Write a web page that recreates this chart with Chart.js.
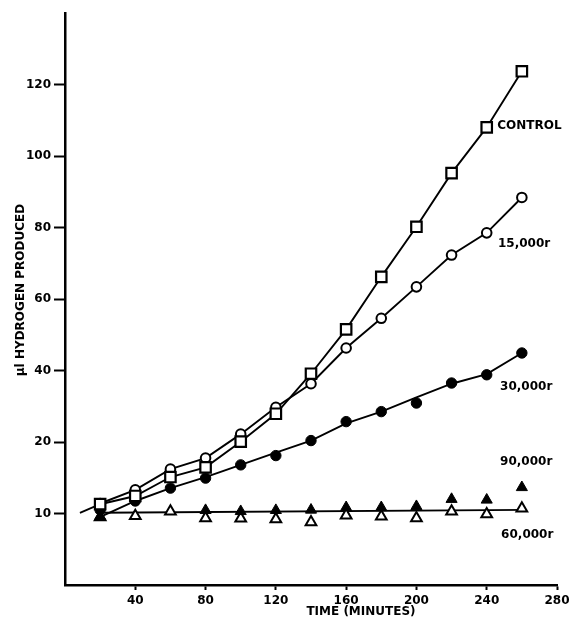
<!DOCTYPE html>
<html>
<head>
<meta charset="utf-8">
<script src="https://cdn.jsdelivr.net/npm/chart.js@4.4.0/dist/chart.umd.min.js"></script>
<style>
  html, body { margin: 0; padding: 0; background: #fff; }
  #wrap { width: 577px; height: 626px; }
</style>
</head>
<body>
<div id="wrap"><canvas id="chart" width="577" height="626"></canvas></div>
<script>
// time points (minutes)
const minutes = [20, 40, 60, 80, 100, 120, 140, 160, 180, 200, 220, 240, 260];

// values in the figure's own axis units (the lowest tick, printed "10", sits at 0)
const control = [2.6, 4.9, 10.2, 12.9, 20.1, 27.9, 39.1, 51.5, 66.2, 80.2, 95.2, 108.0, 123.7];
const r15000 = [2.8, 6.6, 12.4, 15.5, 22.2, 29.7, 36.3, 46.3, 54.6, 63.4, 72.3, 78.5, 88.4];
const r30000 = [1.0, 3.5, 7.1, 9.9, 13.6, 16.2, 20.4, 25.7, 28.5, 30.9, 36.5, 38.8, 44.9];
const r90000 = [-0.8, null, null, 0.9, 0.6, 0.9, 1.0, 1.7, 1.7, 2.0, 4.0, 3.8, 7.3];
const r60000 = [-1.0, -0.7, 0.6, -1.3, -1.4, -1.6, -2.4, -0.5, -0.8, -1.3, 0.6, -0.2, 1.4];

// hand drawn curves
const leadInX = [8.5, 20];
const leadInY = [0.2, 2.6];
const fit30000X = [22, 40, 60, 80, 100, 120, 140, 160, 180, 200, 220, 240, 260];
const fit30000Y = [-0.5, 3.5, 7.1, 10.2, 13.6, 17.0, 20.4, 25.2, 28.5, 32.5, 36.3, 39.0, 44.9];
const flatX = [20, 262];
const flatY = [0.2, 1.0];

// axis ticks
const xTicks = [40, 80, 120, 160, 200, 240, 280];
const yTickPos = [0, 20, 40, 60, 80, 100, 120];
const yTickLabels = ['10', '20', '40', '60', '80', '100', '120'];

const seriesLabels = ['CONTROL', '15,000r', '30,000r', '90,000r', '60,000r'];

function toPoints(xs, ys) {
    return xs.map((x, i) => ({ x: x, y: ys[i] }));
}

const FONT = '"DejaVu Sans", sans-serif';

const figureText = {
    id: 'figureText',
    afterDraw(chart) {
        const ctx = chart.ctx;
        const x = chart.scales.x;
        const y = chart.scales.y;
        const anchors = [[246, 108.4], [246.4, 75.4], [247.6, 35.4], [247.6, 14.4], [248.2, -6.0]];
        ctx.save();
        ctx.fillStyle = '#000';
        ctx.font = 'bold 12px ' + FONT;
        ctx.textBaseline = 'middle';
        ctx.textAlign = 'left';
        seriesLabels.forEach((t, i) => {
            ctx.fillText(t, x.getPixelForValue(anchors[i][0]), y.getPixelForValue(anchors[i][1]));
        });
        ctx.textAlign = 'center';
        ctx.fillText('TIME (MINUTES)', 361, 612);
        ctx.translate(21, 290);
        ctx.rotate(-Math.PI / 2);
        ctx.fillText('\u03bcl HYDROGEN PRODUCED', 0, 0);
        ctx.restore();
    }
};

const lineStyle = { showLine: true, borderColor: '#000', borderWidth: 1.9, pointRadius: 0, fill: false };

new Chart(document.getElementById('chart'), {
    type: 'scatter',
    data: {
        datasets: [
            { label: 'Control', data: toPoints(minutes, control), showLine: true, borderColor: '#000', borderWidth: 1.9,
              pointStyle: 'rect', pointRadius: 7.4, pointBorderWidth: 2.2, pointBackgroundColor: '#fff', pointBorderColor: '#000' },
            { label: '15,000r', data: toPoints(minutes, r15000), showLine: true, borderColor: '#000', borderWidth: 1.9,
              pointStyle: 'circle', pointRadius: 4.8, pointBorderWidth: 2, pointBackgroundColor: '#fff', pointBorderColor: '#000' },
            { label: '30,000r', data: toPoints(minutes, r30000), showLine: false,
              pointStyle: 'circle', pointRadius: 5.2, pointBorderWidth: 1, pointBackgroundColor: '#000', pointBorderColor: '#000' },
            { label: '90,000r', data: toPoints(minutes, r90000), showLine: false,
              pointStyle: 'triangle', pointRadius: 6.4, pointBorderWidth: 1, pointBackgroundColor: '#000', pointBorderColor: '#000' },
            { label: '60,000r', data: toPoints(minutes, r60000), showLine: false,
              pointStyle: 'triangle', pointRadius: 6.2, pointBorderWidth: 2, pointBackgroundColor: '#fff', pointBorderColor: '#000' },
            Object.assign({ label: 'lead-in', data: toPoints(leadInX, leadInY) }, lineStyle),
            Object.assign({ label: '30,000r curve', data: toPoints(fit30000X, fit30000Y) }, lineStyle),
            Object.assign({ label: 'flat curve', data: toPoints(flatX, flatY) }, lineStyle)
        ]
    },
    options: {
        responsive: false,
        animation: false,
        layout: { padding: { top: 13, right: 20, left: 0, bottom: 0 } },
        plugins: {
            legend: { display: false },
            tooltip: { enabled: false }
        },
        scales: {
            x: {
                type: 'linear',
                min: 0,
                max: 280,
                afterBuildTicks: s => { s.ticks = xTicks.map(v => ({ value: v })); },
                afterFit: s => { s.height = 41; },
                ticks: { color: '#000', font: { family: FONT, size: 12, weight: 'bold' }, padding: 4, maxRotation: 0, autoSkip: false },
                grid: { drawOnChartArea: false, tickLength: 5, tickWidth: 2, color: '#000' },
                border: { color: '#000', width: 2.5 }
            },
            y: {
                type: 'linear',
                min: -20,
                max: 140,
                afterBuildTicks: s => { s.ticks = yTickPos.map(v => ({ value: v })); },
                afterFit: s => { s.width = 65; },
                ticks: {
                    color: '#000',
                    font: { family: FONT, size: 12, weight: 'bold' },
                    padding: 3,
                    autoSkip: false,
                    callback: (v, i) => yTickLabels[i]
                },
                grid: { drawOnChartArea: false, tickLength: 11, tickWidth: 2, color: '#000' },
                border: { color: '#000', width: 2.5 }
            }
        }
    },
    plugins: [figureText]
});
</script>
</body>
</html>
